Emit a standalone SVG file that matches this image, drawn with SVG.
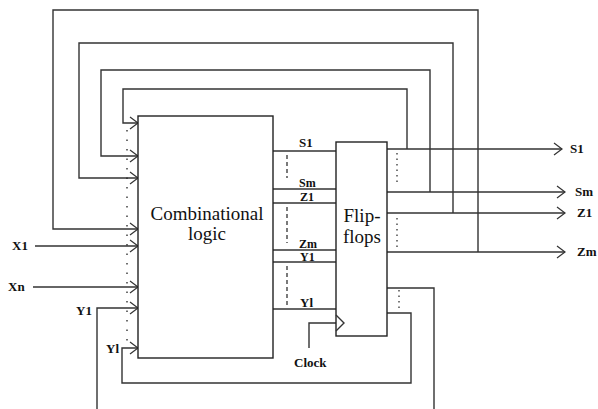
<svg xmlns="http://www.w3.org/2000/svg" width="598" height="409" viewBox="0 0 598 409">
<style>
.ln{fill:none;stroke:#333;stroke-width:1.4}
.box{fill:#fff;stroke:#222;stroke-width:1.4}
.dot{fill:none;stroke:#222;stroke-width:1.3;stroke-dasharray:1.5 8}
.dot2{fill:none;stroke:#222;stroke-width:1.2;stroke-dasharray:1.5 4}
.dash{fill:none;stroke:#222;stroke-width:1.2;stroke-dasharray:4 3}
.lbl{font-family:'Liberation Serif','Times New Roman','DejaVu Serif',serif;font-weight:bold;font-size:13px;fill:#111}
.sm{font-size:12px}
.big{font-family:'Liberation Serif','Times New Roman','DejaVu Serif',serif;font-size:19px;fill:#111;text-anchor:middle}
</style>
<defs>
<marker id="ar" viewBox="-10 -8 12 16" refX="0" refY="0" markerWidth="12" markerHeight="16" markerUnits="userSpaceOnUse" orient="auto">
<path d="M-8,-6 L0,0 L-8,6" fill="none" stroke="#333" stroke-width="1.2"/>
</marker>
</defs>
<rect width="598" height="409" fill="#fff"/>
<g id="connectors">
<polyline class="ln" points="478,252 478,10 53,10 53,229 138,229" marker-end="url(#ar)"/>
<polyline class="ln" points="453,213 453,43 79,43 79,178 138,178" marker-end="url(#ar)"/>
<polyline class="ln" points="430,192 430,70 101,70 101,156 138,156" marker-end="url(#ar)"/>
<polyline class="ln" points="407,149 407,89 123,89 123,123 138,123" marker-end="url(#ar)"/>
<line class="ln" x1="35" y1="246" x2="138" y2="246" marker-end="url(#ar)"/>
<line class="ln" x1="33" y1="287" x2="138" y2="287" marker-end="url(#ar)"/>
<polyline class="ln" points="97,409 97,308 138,308" marker-end="url(#ar)"/>
<polyline class="ln" points="387,313 411,313 411,383 122,383 122,348 138,348" marker-end="url(#ar)"/>
<polyline class="ln" points="387,288 434,288 434,409"/>
<line class="ln" x1="273" y1="151" x2="336" y2="151"/>
<line class="ln" x1="273" y1="189" x2="336" y2="189"/>
<line class="ln" x1="273" y1="203" x2="336" y2="203"/>
<line class="ln" x1="273" y1="250" x2="336" y2="250"/>
<line class="ln" x1="273" y1="262" x2="336" y2="262"/>
<line class="ln" x1="273" y1="309" x2="336" y2="309"/>
<line class="ln" x1="387" y1="149" x2="562" y2="149" marker-end="url(#ar)"/>
<line class="ln" x1="387" y1="192" x2="565" y2="192" marker-end="url(#ar)"/>
<line class="ln" x1="387" y1="213" x2="565" y2="213" marker-end="url(#ar)"/>
<line class="ln" x1="387" y1="252" x2="565" y2="252" marker-end="url(#ar)"/>
<polyline class="ln" points="309,348 309,323 336,323"/>
<line class="dot" x1="127" y1="130" x2="127" y2="345"/>
<line class="dash" x1="287" y1="155" x2="287" y2="178"/>
<line class="dash" x1="287" y1="207" x2="287" y2="243"/>
<line class="dash" x1="287" y1="266" x2="287" y2="305"/>
<line class="dot2" x1="397" y1="153" x2="397" y2="184"/>
<line class="dot2" x1="397" y1="218" x2="397" y2="249"/>
<line class="dot2" x1="399" y1="290" x2="399" y2="311"/>
</g>
<g id="combinational-logic">
<rect class="box" x="138" y="116" width="135" height="242"/>
<text class="big" x="207" y="220">Combinational</text>
<text class="big" x="207" y="240">logic</text>
</g>
<g id="flip-flops">
<rect class="box" x="336" y="142" width="51" height="194"/>
<text class="big" x="362" y="222">Flip-</text>
<text class="big" x="362" y="243">flops</text>
<polyline class="ln" points="336,315 344,323 336,331"/>
</g>
<g id="labels">
<text class="lbl" x="12" y="250">X1</text>
<text class="lbl" x="8" y="291">Xn</text>
<text class="lbl" x="76" y="315">Y1</text>
<text class="lbl" x="106" y="353">Yl</text>
<text class="lbl" x="299" y="147">S1</text>
<text class="lbl sm" x="299" y="187">Sm</text>
<text class="lbl sm" x="300" y="201">Z1</text>
<text class="lbl sm" x="299" y="248">Zm</text>
<text class="lbl sm" x="300" y="261">Y1</text>
<text class="lbl" x="300" y="307">Yl</text>
<text class="lbl" x="294" y="367">Clock</text>
<text class="lbl" x="570" y="153">S1</text>
<text class="lbl" x="575" y="196">Sm</text>
<text class="lbl" x="577" y="217">Z1</text>
<text class="lbl" x="577" y="256">Zm</text>
</g>
</svg>
